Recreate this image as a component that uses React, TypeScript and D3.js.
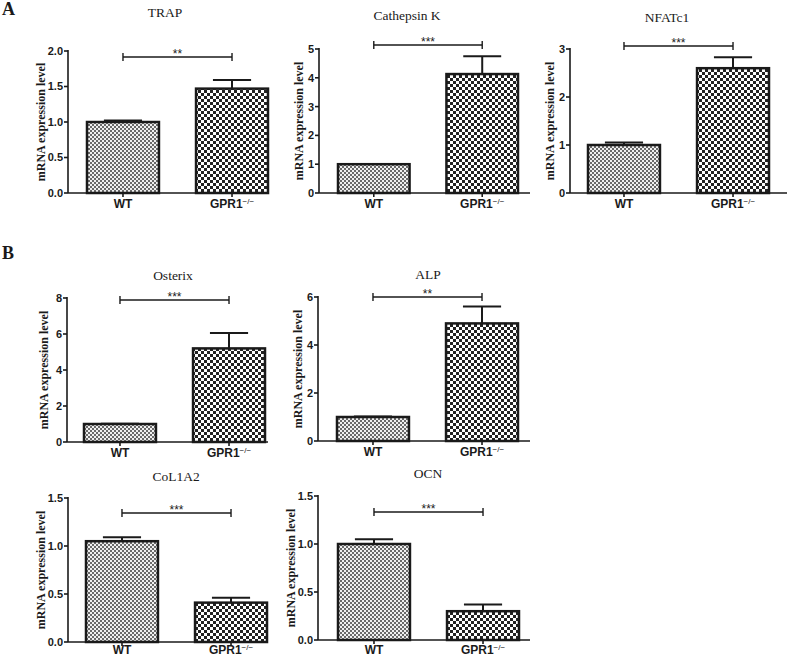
// Bar charts of mRNA expression, WT vs GPR1-/- (panels A and B)
import * as d3 from 'd3';

// ── Data ─────────────────────────────────────────────
const GROUPS = ['WT', 'GPR1'];
const TITLES = ['TRAP', 'Cathepsin K', 'NFATc1', 'Osterix', 'ALP', 'CoL1A2', 'OCN'];
const MEANS = [
  [1.0, 1.47],
  [1.0, 4.13],
  [1.0, 2.6],
  [1.0, 5.2],
  [1.0, 4.9],
  [1.05, 0.41],
  [1.0, 0.3],
];
const ERRORS = [
  [0.02, 0.12],
  [0.01, 0.62],
  [0.05, 0.23],
  [0.02, 0.85],
  [0.02, 0.7],
  [0.04, 0.05],
  [0.05, 0.07],
];
const Y_MAX = [2, 5, 3, 8, 6, 1.5, 1.5];
const Y_TICKS = [
  [0, 0.5, 1, 1.5, 2],
  [0, 1, 2, 3, 4, 5],
  [0, 1, 2, 3],
  [0, 2, 4, 6, 8],
  [0, 2, 4, 6],
  [0, 0.5, 1, 1.5],
  [0, 0.5, 1, 1.5],
];
const STARS = ['**', '***', '***', '***', '**', '***', '***'];

// ── Layout (page pixels) ─────────────────────────────
type Box = { ax: number; top: number; bot: number; b0: number; b1: number; end: number; tx: number; ty: number; lx: number; br: number };
const LAYOUT: Box[] = [
  { ax: 68,  top: 51,  bot: 193, b0: 87,  b1: 268, end: 269, tx: 165, ty: 17,  lx: 42,  br: 57 },
  { ax: 319, top: 49,  bot: 193, b0: 338, b1: 518, end: 530, tx: 407, ty: 20,  lx: 300, br: 45 },
  { ax: 570, top: 49,  bot: 193, b0: 588, b1: 769, end: 787, tx: 667, ty: 22,  lx: 551, br: 46 },
  { ax: 67,  top: 298, bot: 442, b0: 84,  b1: 265, end: 268, tx: 173, ty: 280, lx: 45,  br: 300 },
  { ax: 318, top: 297, bot: 441, b0: 337, b1: 518, end: 530, tx: 428, ty: 279, lx: 299, br: 297 },
  { ax: 68,  top: 498, bot: 642, b0: 86,  b1: 267, end: 268, tx: 176, ty: 481, lx: 42,  br: 513 },
  { ax: 318, top: 496, bot: 640, b0: 338, b1: 519, end: 530, tx: 428, ty: 478, lx: 292, br: 512 },
];

const INK = '#1a1a1a';
const SANS = '"Liberation Sans", Arial, sans-serif';
const SERIF = '"Liberation Serif", "Times New Roman", serif';

function Panel({ i }: { i: number }) {
  const L = LAYOUT[i];
  const y = d3.scaleLinear().domain([0, Y_MAX[i]]).range([L.bot, L.top]);
  const x = d3.scaleBand<string>().domain(GROUPS).range([L.b0, L.b1]).paddingInner(0.34);
  const decimals = Y_TICKS[i].some(t => t % 1 !== 0);
  const fmt = d3.format(decimals ? '.1f' : 'd');
  const cx = (g: string) => (x(g) ?? 0) + x.bandwidth() / 2;
  const capW = x.bandwidth() * 0.53;
  const labY = Math.min(L.bot + 14.5, 654);

  return (
    <g>
      <text x={L.tx} y={L.ty} textAnchor="middle" fontFamily={SERIF} fontSize={13.5} fill={INK}>{TITLES[i]}</text>

      {/* y label */}
      <text transform={`translate(${L.lx},${(L.top + L.bot) / 2}) rotate(-90)`} textAnchor="middle" dominantBaseline="middle"
        fontFamily={SERIF} fontWeight="bold" fontSize={12} fill={INK}>mRNA expression level</text>

      {/* bars */}
      {GROUPS.map((g, j) => {
        const m = MEANS[i][j];
        const e = ERRORS[i][j];
        return (
          <g key={g}>
            <line x1={cx(g)} x2={cx(g)} y1={y(m)} y2={y(m + e)} stroke={INK} strokeWidth={2} />
            <line x1={cx(g) - capW / 2} x2={cx(g) + capW / 2} y1={y(m + e)} y2={y(m + e)} stroke={INK} strokeWidth={2} />
            <rect x={x(g)} y={y(m)} width={x.bandwidth()} height={L.bot - y(m)}
              fill={j === 0 ? 'url(#fine)' : 'url(#coarse)'} stroke={INK} strokeWidth={2.5} />
          </g>
        );
      })}

      {/* axes */}
      <line x1={L.ax} x2={L.ax} y1={L.top - 1} y2={L.bot} stroke={INK} strokeWidth={1.6} />
      <line x1={L.ax} x2={L.end} y1={L.bot} y2={L.bot} stroke={INK} strokeWidth={1.6} />
      {Y_TICKS[i].map(t => (
        <g key={t}>
          <line x1={L.ax - 4} x2={L.ax} y1={y(t)} y2={y(t)} stroke={INK} strokeWidth={1.6} />
          <text x={L.ax - 5} y={y(t)} dy="0.36em" textAnchor="end" fontFamily={SANS} fontWeight="bold" fontSize={11} fill={INK}>{fmt(t)}</text>
        </g>
      ))}
      {GROUPS.map((g, j) => (
        <g key={g}>
          <line x1={cx(g)} x2={cx(g)} y1={L.bot} y2={L.bot + 4} stroke={INK} strokeWidth={1.6} />
          <text x={cx(g)} y={labY} textAnchor="middle" fontFamily={SANS} fontWeight="bold" fontSize={12} fill={INK}>
            {g}
            {j === 1 && <tspan fontSize={8} fontWeight="normal" dy={-4}>−/−</tspan>}
          </text>
        </g>
      ))}

      {/* significance bracket */}
      <line x1={cx(GROUPS[0])} x2={cx(GROUPS[1])} y1={L.br} y2={L.br} stroke={INK} strokeWidth={1.4} />
      <line x1={cx(GROUPS[0])} x2={cx(GROUPS[0])} y1={L.br - 4} y2={L.br + 4} stroke={INK} strokeWidth={1.4} />
      <line x1={cx(GROUPS[1])} x2={cx(GROUPS[1])} y1={L.br - 4} y2={L.br + 4} stroke={INK} strokeWidth={1.4} />
      <text x={(cx(GROUPS[0]) + cx(GROUPS[1])) / 2} y={L.br + 1} textAnchor="middle" fontFamily={SANS} fontSize={12} fill={INK}>{STARS[i]}</text>
    </g>
  );
}

export default function App() {
  return (
    <svg width={789} height={658} style={{ position: 'absolute', left: 0, top: 0, background: '#fff' }}>
      <defs>
        <pattern id="fine" width={4} height={4} patternUnits="userSpaceOnUse">
          <rect width={4} height={4} fill="#f0f0f0" />
          <rect width={2} height={2} fill="#6a6a6a" />
          <rect x={2} y={2} width={2} height={2} fill="#6a6a6a" />
        </pattern>
        <pattern id="coarse" width={6} height={6} patternUnits="userSpaceOnUse">
          <rect width={6} height={6} fill="#ffffff" />
          <rect width={3} height={3} fill="#222" />
          <rect x={3} y={3} width={3} height={3} fill="#222" />
        </pattern>
      </defs>
      <rect width={789} height={658} fill="#fff" />
      <text x={2} y={15} fontFamily={SERIF} fontWeight="bold" fontSize={18} fill={INK}>A</text>
      <text x={2} y={259} fontFamily={SERIF} fontWeight="bold" fontSize={18} fill={INK}>B</text>
      {TITLES.map((_, i) => <Panel key={i} i={i} />)}
    </svg>
  );
}
